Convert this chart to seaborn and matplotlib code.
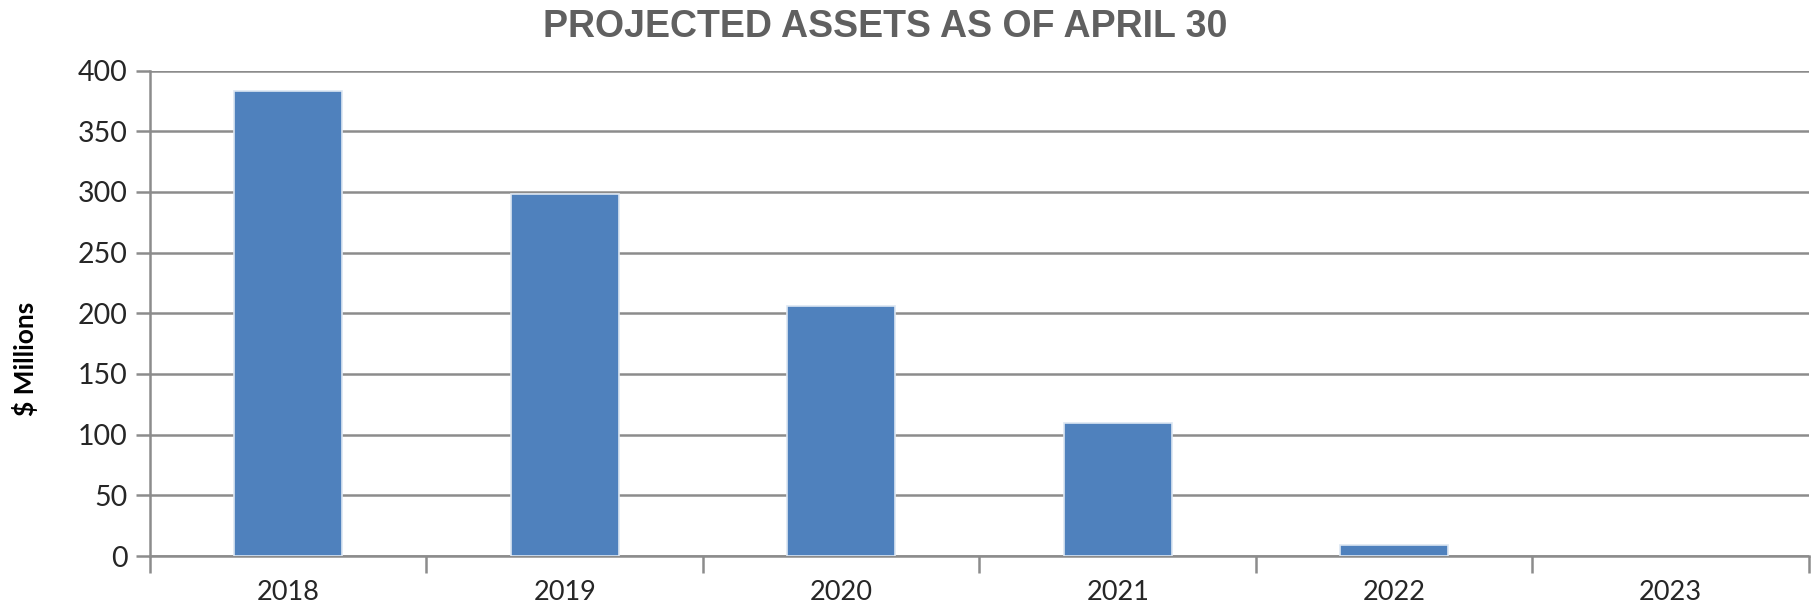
import matplotlib
matplotlib.use("Agg")
import matplotlib.pyplot as plt
import seaborn as sns
import pandas as pd
import numpy as np

# data
years = ["2018", "2019", "2020", "2021", "2022", "2023"]
assets = [383, 298, 206, 110, 9, 0]
y_ticks = [0, 50, 100, 150, 200, 250, 300, 350, 400]

df = pd.DataFrame({"year": years, "assets": assets})

sns.set_theme(style="white")
plt.rcParams["font.family"] = ["Lato", "DejaVu Sans"]

grey = "#8c8c8c"
fig = plt.figure(figsize=(18.13, 6.08), dpi=100)
ax = fig.add_axes([0.0827, 0.0855, 0.9151, 0.7985])

sns.barplot(data=df, x="year", y="assets", color="#4F81BD", saturation=1,
            width=0.39, edgecolor="#dce6f2", linewidth=1.2, ax=ax, zorder=3)
# no outline for the empty bar
for p in ax.patches:
    if p.get_height() == 0:
        p.set_linewidth(0)

ax.set_ylim(0, 400)
ax.set_yticks(y_ticks)
ax.set_xlim(-0.5, len(years) - 0.5)

# gridlines
ax.yaxis.grid(True, color=grey, linewidth=1.8, zorder=0)
ax.set_axisbelow(True)

for s in ["top", "right"]:
    ax.spines[s].set_visible(False)
for s in ["left", "bottom"]:
    ax.spines[s].set_color(grey)
    ax.spines[s].set_linewidth(1.8)

# ticks: y outward, x only at category boundaries
ax.tick_params(axis="y", which="major", length=10, width=1.8, color=grey,
               labelsize=20.5, pad=6, left=True)
ax.tick_params(axis="x", which="major", length=0, labelsize=19.5, pad=17)
ax.set_xticks(np.arange(-0.5, len(years)), minor=True)
ax.tick_params(axis="x", which="minor", length=12, width=1.8, color=grey,
               bottom=True, direction="out")

ax.set_xlabel("")
ax.set_ylabel("")
fig.text(0.014, 0.41, "$ Millions", rotation=90, ha="center", va="center",
         fontsize=19, fontweight="bold", color="black")

fig.text(0.488, 0.955, "PROJECTED ASSETS AS OF APRIL 30", ha="center", va="center",
         fontsize=27, fontweight="bold", color="#606060",
         family=["Liberation Sans", "DejaVu Sans"])

fig.savefig("out.png", dpi=100)
